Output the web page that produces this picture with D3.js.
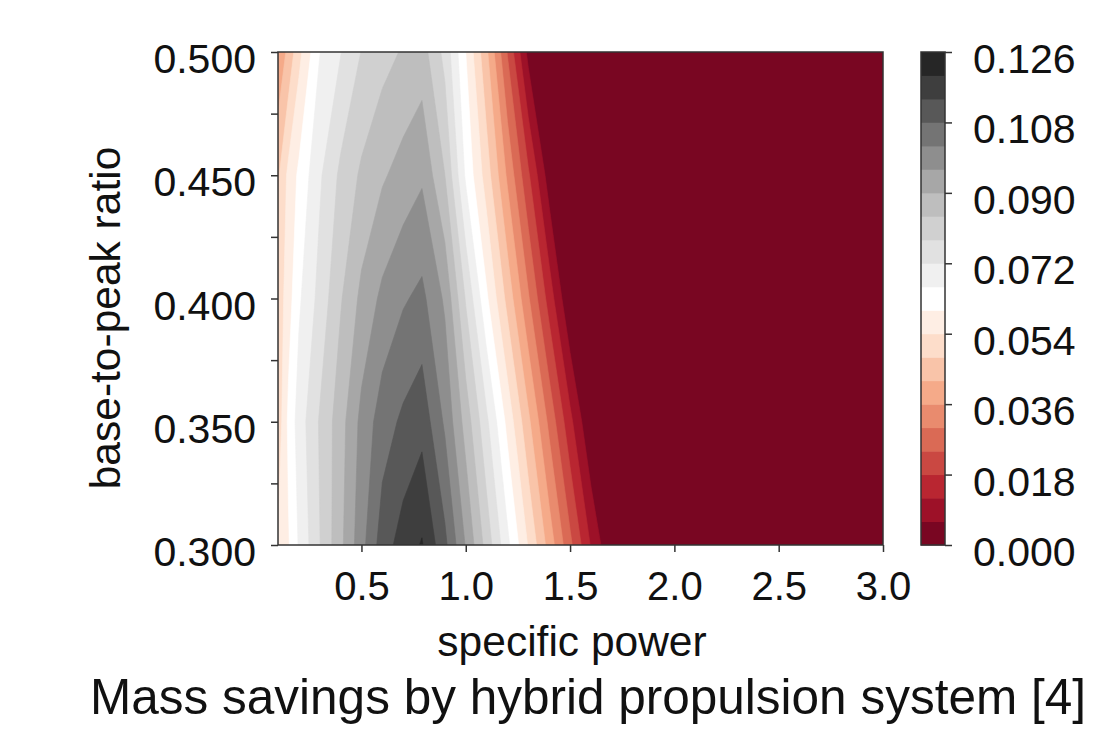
<!DOCTYPE html>
<html>
<head>
<meta charset="utf-8">
<script src="https://cdn.jsdelivr.net/npm/d3@7"></script>
<style>
  body { margin: 0; background: #fff; }
  svg text { font-family: "Liberation Sans", Arial, sans-serif; fill: #111; }
</style>
</head>
<body>
<div class="chart"></div>
<script>
// specific power sample columns (x) and base-to-peak ratio rows (y)
var powerCols = [0.1, 0.15, 0.2, 0.3, 0.4, 0.5, 0.6, 0.7, 0.79, 0.9, 1.0, 1.1, 1.2, 1.3, 1.4, 1.5, 1.6, 1.7, 1.8, 3.0];
var ratioRows = [0.30, 0.35, 0.40, 0.45, 0.50];

// mass savings, one array per ratio row
var savings030 = [0.0545, 0.0594, 0.0666, 0.0778, 0.0885, 0.0998, 0.1110, 0.1167, 0.1205, 0.1095, 0.0955, 0.0815, 0.0675, 0.0535, 0.0395, 0.0255, 0.0115, 0, 0, 0];
var savings035 = [0.0500, 0.0613, 0.0687, 0.0786, 0.0875, 0.0977, 0.1051, 0.1092, 0.1119, 0.1010, 0.0875, 0.0732, 0.0582, 0.0433, 0.0285, 0.0137, 0, 0, 0, 0];
var savings040 = [0.0500, 0.0574, 0.0650, 0.0740, 0.0834, 0.0915, 0.0974, 0.1013, 0.1035, 0.0950, 0.0774, 0.0610, 0.0460, 0.0307, 0.0154, 0, 0, 0, 0, 0];
var savings045 = [0.0470, 0.0556, 0.0612, 0.0711, 0.0793, 0.0850, 0.0892, 0.0924, 0.0951, 0.0840, 0.0650, 0.0510, 0.0349, 0.0189, 0.0028, 0, 0, 0, 0, 0];
var savings050 = [0.0370, 0.0437, 0.0521, 0.0658, 0.0717, 0.0782, 0.0818, 0.0846, 0.0867, 0.0761, 0.0600, 0.0431, 0.0236, 0.0041, 0, 0, 0, 0, 0, 0];

// contour levels and tick labels
var levels = d3.range(0, 22).map(function(i) { return +(i * 0.006).toFixed(3); });
var xTicks = [0.5, 1.0, 1.5, 2.0, 2.5, 3.0];
var yTicks = [0.300, 0.325, 0.350, 0.375, 0.400, 0.425, 0.450, 0.475, 0.500];
var cbarTicks = [0.000, 0.018, 0.036, 0.054, 0.072, 0.090, 0.108, 0.126];

var svgWidth = 1100;
var svgHeight = 737;

var plot = { left: 278, right: 883, top: 52, bottom: 545 };

var svg = d3.select(".chart")
  .append("svg")
  .attr("width", svgWidth)
  .attr("height", svgHeight);

// RdGy, linear through the colorbrewer stops (like matplotlib)
var rdgy = d3.scaleLinear()
  .domain(d3.range(11).map(function(i) { return i / 10; }))
  .range(["#67001f", "#b2182b", "#d6604d", "#f4a582", "#fddbc7", "#ffffff",
          "#e0e0e0", "#bababa", "#878787", "#4d4d4d", "#1a1a1a"]);
var nBands = levels.length - 1;
function bandColor(i) { return rdgy((i + 0.5) / nBands); }

var xScale = d3.scaleLinear().domain([0.1, 3.0]).range([plot.left, plot.right]);
var yScale = d3.scaleLinear().domain([0.3, 0.5]).range([plot.bottom, plot.top]);

// grid space -> data space (samples sit at index + 0.5)
var colScale = d3.scaleLinear()
  .domain(powerCols.map(function(d, i) { return i + 0.5; }))
  .range(powerCols);
var rowScale = d3.scaleLinear()
  .domain(ratioRows.map(function(d, i) { return i + 0.5; }))
  .range(ratioRows);

var rows = [savings030, savings035, savings040, savings045, savings050];
var grid = [];
rows.forEach(function(r) { r.forEach(function(v) { grid.push(v); }); });

var contours = d3.contours()
  .size([powerCols.length, ratioRows.length])
  .thresholds(levels.slice(0, -1))
  (grid);

var proj = d3.geoTransform({
  point: function(x, y) {
    this.stream.point(xScale(colScale(x)), yScale(rowScale(y)));
  }
});
var path = d3.geoPath(proj);

svg.append("clipPath")
  .attr("id", "plot-clip")
  .append("rect")
  .attr("x", plot.left)
  .attr("y", plot.top)
  .attr("width", plot.right - plot.left)
  .attr("height", plot.bottom - plot.top);

svg.append("g")
  .attr("clip-path", "url(#plot-clip)")
  .selectAll("path")
  .data(contours)
  .enter()
  .append("path")
  .attr("d", path)
  .attr("fill", function(d, i) { return bandColor(i); })
  .attr("stroke", function(d, i) { return bandColor(i); })
  .attr("stroke-width", 0.6);

// frame
svg.append("rect")
  .attr("x", plot.left)
  .attr("y", plot.top)
  .attr("width", plot.right - plot.left)
  .attr("height", plot.bottom - plot.top)
  .attr("fill", "none")
  .attr("stroke", "#333")
  .attr("stroke-width", 1.5);

// axes
var bottomAxis = d3.axisBottom(xScale)
  .tickValues(xTicks)
  .tickSize(7)
  .tickPadding(20)
  .tickFormat(d3.format(".1f"));

var leftAxis = d3.axisLeft(yScale)
  .tickValues(yTicks)
  .tickSize(7)
  .tickPadding(15)
  .tickFormat(function(d) {
    return Math.round(d * 1000) % 50 === 0 ? d3.format(".3f")(d) : "";
  });

var xAxisG = svg.append("g")
  .attr("transform", `translate(0, ${plot.bottom})`)
  .call(bottomAxis);

var yAxisG = svg.append("g")
  .attr("transform", `translate(${plot.left}, 0)`)
  .call(leftAxis);

[xAxisG, yAxisG].forEach(function(g) {
  g.select(".domain").remove();
  g.selectAll("line").attr("stroke", "#333").attr("stroke-width", 1.5);
  g.selectAll("text").attr("fill", "#111");
});
xAxisG.selectAll("text").attr("font-size", 40);
yAxisG.selectAll("text").attr("font-size", 41).attr("dy", "0.5em");

// axis labels and title
svg.append("text")
  .attr("transform", `translate(120, 318) rotate(-90)`)
  .attr("text-anchor", "middle")
  .attr("font-size", 42.5)
  .text("base-to-peak ratio");

svg.append("text")
  .attr("x", 572)
  .attr("y", 656)
  .attr("text-anchor", "middle")
  .attr("font-size", 42.5)
  .text("specific power");

svg.append("text")
  .attr("x", 588)
  .attr("y", 714)
  .attr("text-anchor", "middle")
  .attr("font-size", 49.5)
  .text("Mass savings by hybrid propulsion system [4]");

// colorbar
var cbar = { left: 921, right: 945 };
var cScale = d3.scaleLinear().domain([0, 0.126]).range([plot.bottom, plot.top]);

svg.append("g")
  .selectAll("rect")
  .data(d3.range(nBands))
  .enter()
  .append("rect")
  .attr("x", cbar.left)
  .attr("width", cbar.right - cbar.left)
  .attr("y", function(i) { return cScale(levels[i + 1]); })
  .attr("height", function(i) { return cScale(levels[i]) - cScale(levels[i + 1]) + 0.5; })
  .attr("fill", function(i) { return bandColor(i); });

svg.append("rect")
  .attr("x", cbar.left)
  .attr("y", plot.top)
  .attr("width", cbar.right - cbar.left)
  .attr("height", plot.bottom - plot.top)
  .attr("fill", "none")
  .attr("stroke", "#333")
  .attr("stroke-width", 1.5);

var cAxisG = svg.append("g")
  .attr("transform", `translate(${cbar.right}, 0)`)
  .call(d3.axisRight(cScale)
    .tickValues(cbarTicks)
    .tickSize(7)
    .tickPadding(21)
    .tickFormat(d3.format(".3f")));

cAxisG.select(".domain").remove();
cAxisG.selectAll("line").attr("stroke", "#333").attr("stroke-width", 1.5);
cAxisG.selectAll("text").attr("font-size", 41).attr("fill", "#111").attr("dy", "0.5em");
</script>
</body>
</html>
